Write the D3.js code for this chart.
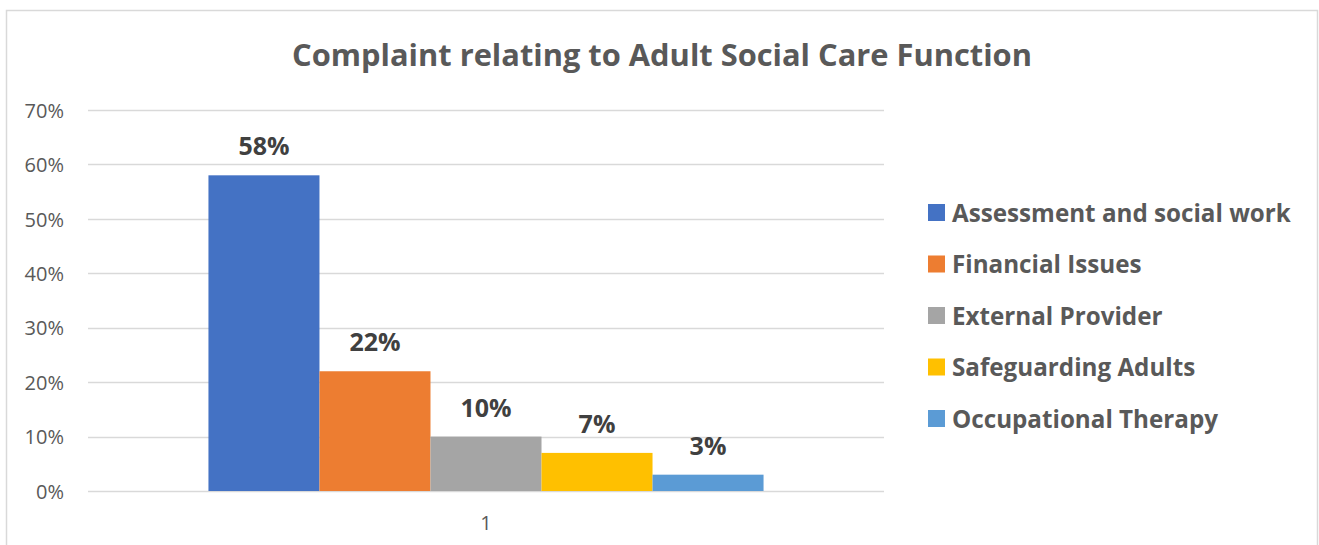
<!DOCTYPE html>
<html>
<head>
<meta charset="utf-8">
<script src="https://cdn.jsdelivr.net/npm/d3@7"></script>
<style>
  html, body { margin: 0; padding: 0; background: #fff; }
  svg { display: block; }
  text { font-family: "Open Sans", Lato, sans-serif; }
</style>
</head>
<body>
<svg id="chart" width="1319" height="545"></svg>
<script>
// Share of complaints by adult social care function
const categories = ["1"];
const seriesNames = ["Assessment and social work", "Financial Issues", "External Provider", "Safeguarding Adults", "Occupational Therapy"];
const seriesValues = [0.58, 0.22, 0.10, 0.07, 0.03];
const seriesColors = ["#4472c4", "#ed7d31", "#a5a5a5", "#ffc000", "#5b9bd5"];
const yTicks = [0, 0.1, 0.2, 0.3, 0.4, 0.5, 0.6, 0.7];
const titleText = "Complaint relating to Adult Social Care Function";

const FONT = "'Open Sans', Lato, sans-serif";
const svg = d3.select("#chart");
const W = 1319, H = 545;

// outer chart frame
svg.append("rect")
  .attr("x", 6.5).attr("y", 10.5)
  .attr("width", W - 8).attr("height", H)
  .attr("fill", "#fff").attr("stroke", "#d9d9d9").attr("stroke-width", 1.5);

const plot = { left: 88, right: 884, top: 110, bottom: 491 };

const y = d3.scaleLinear().domain([0, 0.7]).range([plot.bottom, plot.top]);
const x0 = d3.scaleBand().domain(categories).range([plot.left, plot.right]).paddingInner(0).paddingOuter(0.217);
const x1 = d3.scaleBand().domain(seriesNames).range([0, x0.bandwidth()]).padding(0);

// fit a text element's font size so it spans a given width
function fitWidth(sel, target) {
  const node = sel.node();
  const fs = parseFloat(sel.attr("font-size"));
  const w = node.getComputedTextLength();
  sel.attr("font-size", (fs * target / w).toFixed(2));
}

// title
const title = svg.append("text")
  .attr("x", 662).attr("y", 66)
  .attr("text-anchor", "middle")
  .attr("font-size", 30).attr("font-weight", 700)
  .attr("fill", "#595959")
  .text(titleText);
fitWidth(title, 740);

// gridlines
svg.append("g")
  .selectAll("line").data(yTicks).join("line")
  .attr("x1", plot.left).attr("x2", plot.right)
  .attr("y1", d => Math.round(y(d)) + 0.5).attr("y2", d => Math.round(y(d)) + 0.5)
  .attr("stroke", "#d9d9d9").attr("stroke-width", 1.5);

// y axis labels
const yAxis = d3.axisLeft(y).tickValues(yTicks).tickFormat(d3.format(".0%")).tickSize(0).tickPadding(0);
const yg = svg.append("g").attr("transform", `translate(${plot.left - 24},0)`).call(yAxis);
yg.select(".domain").remove();
yg.selectAll("text")
  .attr("font-size", 20).attr("fill", "#595959")
  .style("font-family", FONT)
  .attr("dy", "0.36em");

// x axis label
const xAxis = d3.axisBottom(x0).tickSize(0).tickPadding(0);
const xg = svg.append("g").attr("transform", `translate(0,${plot.bottom + 39})`).call(xAxis);
xg.select(".domain").remove();
xg.selectAll("text")
  .attr("font-size", 20).attr("fill", "#595959")
  .style("font-family", FONT)
  .attr("dy", 0);

// bars
const groups = svg.append("g").selectAll("g").data(categories).join("g")
  .attr("transform", d => `translate(${x0(d)},0)`);

const barData = seriesNames.map((name, i) => ({ name, value: seriesValues[i], color: seriesColors[i] }));

groups.selectAll("rect").data(barData).join("rect")
  .attr("x", d => x1(d.name))
  .attr("y", d => y(d.value))
  .attr("width", x1.bandwidth())
  .attr("height", d => y(0) - y(d.value))
  .attr("fill", d => d.color);

// value labels
groups.selectAll("text.val").data(barData).join("text")
  .attr("class", "val")
  .attr("x", d => x1(d.name) + x1.bandwidth() / 2)
  .attr("y", d => y(d.value) - 20)
  .attr("text-anchor", "middle")
  .attr("font-size", 25).attr("font-weight", 700)
  .attr("fill", "#404040")
  .text(d => d3.format(".0%")(d.value));

// legend
const legend = svg.append("g").attr("transform", "translate(928,213)");
const items = legend.selectAll("g").data(barData).join("g")
  .attr("transform", (d, i) => `translate(0,${i * 51.5})`);
items.append("rect")
  .attr("x", 0).attr("y", -9).attr("width", 17).attr("height", 17)
  .attr("fill", d => d.color);
const legendText = items.append("text")
  .attr("x", 24).attr("y", 0).attr("dy", "0.36em")
  .attr("font-size", 23).attr("font-weight", 700)
  .attr("fill", "#595959")
  .text(d => d.name);
// size legend font from the first entry's span
const first = d3.select(legendText.nodes()[0]);
fitWidth(first, 339);
legendText.attr("font-size", first.attr("font-size"));
</script>
</body>
</html>
